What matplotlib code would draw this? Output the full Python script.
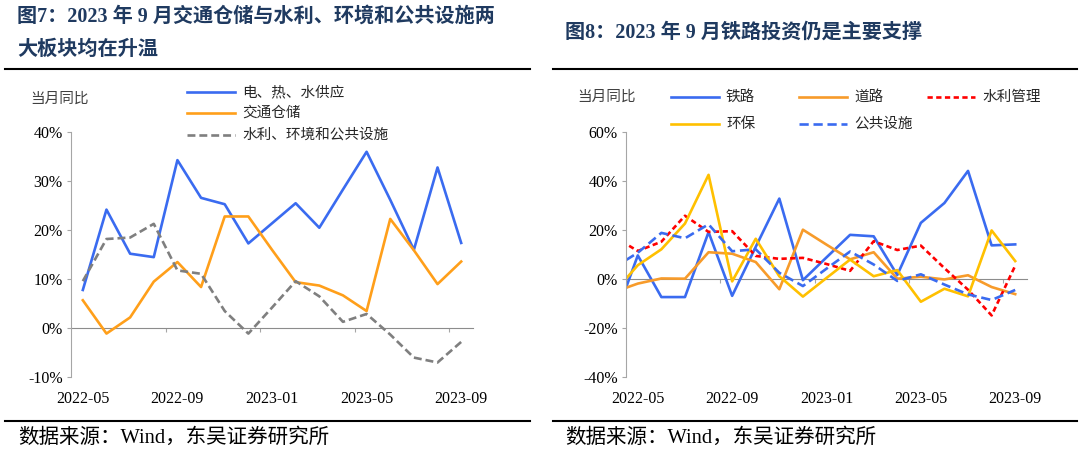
import numpy as np
import matplotlib.pyplot as plt
from matplotlib.lines import Line2D

plt.rcParams['font.family'] = ['Liberation Serif', 'Noto Sans CJK SC']
CJK = ['Noto Sans CJK SC']

# ── Data (当月同比, %) ─────────────────────────────────
months = ['2022-05', '2022-06', '2022-07', '2022-08', '2022-09', '2022-10',
          '2022-11', '2022-12', '2023-01', '2023-02', '2023-03', '2023-04',
          '2023-05', '2023-06', '2023-07', '2023-08', '2023-09']
tick_labels = ['2022-05', '2022-09', '2023-01', '2023-05', '2023-09']

# figure 7
power_heat_water = [7.7, 24.1, 15.1, 14.4, 34.2, 26.5, 25.2, 17.2, 21.3,
                    25.4, 20.4, 28.2, 35.9, 26.1, 15.9, 32.7, 17.3]
transport_storage = [5.6, -1.2, 2.1, 9.4, 13.4, 8.3, 22.7, 22.7, 15.9,
                     9.3, 8.6, 6.6, 3.4, 22.2, 15.8, 8.9, 13.5]
water_env_public = [9.5, 18.1, 18.4, 21.2, 11.7, 11.0, 3.4, -1.2, 4.1,
                    9.5, 6.4, 1.2, 2.8, -1.4, -6.1, -7.1, -2.9]

# figure 8: starts one month earlier (2022-04), cut off by the axis
months_r = ['2022-04'] + months
railway = [-16.9, 9.5, -7.5, -7.5, 19.0, -7.0, 13.0, 32.7, -0.6, 8.7,
           17.9, 17.3, 1.5, 22.8, 30.9, 44.0, 13.6, 14.0]
road = [-5.4, -2.0, 0.1, 0.0, 10.8, 10.2, 6.8, -4.3, 20.0, 13.9,
        7.9, 10.8, 0.0, 0.8, -0.3, 1.4, -3.4, -6.3]
water_mgmt = [17.1, 11.3, 15.1, 25.7, 19.1, 19.4, 9.3, 8.1, 8.5, 6.0,
              3.2, 15.3, 11.7, 13.5, 4.3, -4.5, -15.0, 5.3]
environment = [-5.5, 5.5, 12.0, 22.5, 42.4, -1.1, 16.3, 1.0, -7.3, 0.3,
               7.8, 1.0, 3.5, -9.4, -4.1, -7.2, 19.7, 7.2]
public_fac = [4.6, 10.6, 18.7, 16.5, 22.2, 11.2, 12.0, 2.4, -3.0, 4.1,
              11.1, 5.8, -0.9, 1.8, -2.4, -6.4, -8.7, -4.6]

BLUE = '#3A6BF0'
ORANGE = '#FF9F1A'
GRAY = '#7F7F7F'
ROAD = '#F79B2A'
GOLD = '#FFC000'
RED = '#FF0000'
NAVY = '#1F3A60'
AXC = '#A6A6A6'

W, H = 1080, 458
fig = plt.figure(figsize=(W / 100, H / 100), dpi=100)
fig.patch.set_facecolor('white')


def px(x, y):
    return x / W, 1 - y / H


def style_axes(ax, ymin, ymax, step):
    ax.set_xlim(-0.5, 16.5)
    ax.set_ylim(ymin, ymax)
    yt = np.arange(ymin, ymax + step, step)
    ax.set_yticks(yt)
    ax.set_yticklabels([f'{v}%' for v in yt])
    ax.set_xticks(range(0, 17, 4))
    ax.set_xticklabels(tick_labels)
    ax.tick_params(axis='x', length=0, pad=10, labelsize=11.5)
    ax.tick_params(axis='y', length=3, direction='out', color=AXC,
                   labelsize=11.5, pad=3)
    for s in ['top', 'right', 'bottom']:
        ax.spines[s].set_visible(False)
    ax.spines['left'].set_color(AXC)
    # zero line with tick marks between categories
    zero = ax.secondary_xaxis((0 - ymin) / (ymax - ymin))
    zero.set_xticks(np.arange(3.5, 16, 4))
    zero.tick_params(length=3, direction='out', color=AXC, labelbottom=False)
    zero.spines['bottom'].set_color('#8C8C8C')


def legend_item(x, y, color, ls, label):
    x0, y0 = px(x, y)
    x1, _ = px(x + 48, y)
    fig.add_artist(Line2D([x0, x1], [y0, y0], color=color, lw=1.9, ls=ls))
    fig.text(x1 + 7 / W, y0, label, fontsize=10.5, family=CJK,
             color='#262626', va='center', ha='left')


# ── Figure 7 ──────────────────────────────────────────
ax1 = fig.add_axes([71 / W, 81.3 / H, 402 / W, 245 / H])
x1 = np.arange(len(months))
ax1.plot(x1, power_heat_water, color=BLUE, lw=1.9)
ax1.plot(x1, transport_storage, color=ORANGE, lw=1.9)
ax1.plot(x1, water_env_public, color=GRAY, lw=1.9, ls=(0, (3, 1.5)))
style_axes(ax1, -10, 40, 10)

# ── Figure 8 ──────────────────────────────────────────
ax2 = fig.add_axes([626 / W, 81.3 / H, 401 / W, 245 / H])
x2 = np.arange(-1, len(months))
ax2.plot(x2, railway, color=BLUE, lw=1.9)
ax2.plot(x2, road, color=ROAD, lw=1.9)
ax2.plot(x2, water_mgmt, color=RED, lw=1.9, ls=(0, (2, 1.3)))
ax2.plot(x2, environment, color=GOLD, lw=1.9)
ax2.plot(x2, public_fac, color=BLUE, lw=1.9, ls=(0, (3.5, 1.8)))
style_axes(ax2, -40, 60, 20)

# ── Legends ───────────────────────────────────────────
legend_item(187, 92, BLUE, '-', '电、热、水供应')
legend_item(187, 113, ORANGE, '-', '交通仓储')
legend_item(187, 135, GRAY, (0, (3, 1.5)), '水利、环境和公共设施')

legend_item(671, 97, BLUE, '-', '铁路')
legend_item(799, 97, ROAD, '-', '道路')
legend_item(927, 97, RED, (0, (2, 1.3)), '水利管理')
legend_item(671, 124, GOLD, '-', '环保')
legend_item(799, 124, BLUE, (0, (3.5, 1.8)), '公共设施')

for xx, yy in [(30, 99), (577, 97)]:
    fig.text(*px(xx, yy), '当月同比', fontsize=10.5, family=CJK,
             color='#404040', va='center', ha='left')

# ── Titles, rules and sources ─────────────────────────
tfam = ['Liberation Serif', 'Noto Sans CJK SC']
fig.text(*px(17, 17), '图7：2023 年 9 月交通仓储与水利、环境和公共设施两',
         fontsize=14.5, fontweight='bold', family=tfam, color=NAVY,
         va='center', ha='left')
fig.text(*px(17, 50), '大板块均在升温', fontsize=14.5, fontweight='bold',
         family=tfam, color=NAVY, va='center', ha='left')
fig.text(*px(565, 33), '图8：2023 年 9 月铁路投资仍是主要支撑',
         fontsize=14.5, fontweight='bold', family=tfam, color=NAVY,
         va='center', ha='left')

for xa, xb in [(5, 530), (553, 1077)]:
    for yy in (69, 421):
        (ax_, ay), (bx, _) = px(xa, yy), px(xb, yy)
        fig.add_artist(Line2D([ax_, bx], [ay, ay], color='black', lw=1.5))

for xx in (18, 565):
    fig.text(*px(xx, 438), '数据来源：Wind，东吴证券研究所', fontsize=14.8,
             family=tfam, color='black', va='center', ha='left')

plt.savefig('out.png', dpi=100, facecolor='white')
